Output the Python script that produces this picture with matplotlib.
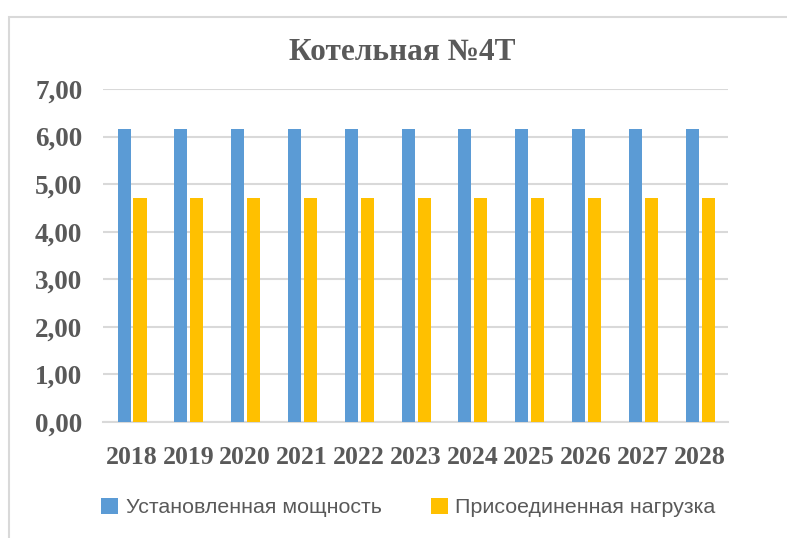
import matplotlib
matplotlib.use("Agg")
import matplotlib.pyplot as plt
import numpy as np
from matplotlib.patches import Rectangle
from matplotlib.ticker import FuncFormatter

years = ["2018", "2019", "2020", "2021", "2022", "2023", "2024", "2025", "2026", "2027", "2028"]
installed = [6.16, 6.16, 6.16, 6.16, 6.16, 6.16, 6.16, 6.16, 6.16, 6.16, 6.16]
connected = [4.71, 4.71, 4.71, 4.71, 4.71, 4.71, 4.71, 4.71, 4.71, 4.71, 4.71]

BLUE = "#5B9BD5"
YELLOW = "#FFC000"
TEXT = "#595959"
GRID = "#D9D9D9"

fig = plt.figure(figsize=(7.87, 5.38), dpi=100)
ax = fig.add_axes([0.131, 0.2156, 0.794, 0.619])

# chart frame (extends past right/bottom edge like the cropped original)
fig.patches.append(Rectangle((0.011, -0.2), 1.5, 0.2 + 0.968, transform=fig.transFigure,
                             fill=False, edgecolor=GRID, linewidth=1.5))

x = np.arange(len(years))
w = 0.23
ax.bar(x - 0.13, installed, width=w, color=BLUE, label="Установленная мощность", zorder=3)
ax.bar(x + 0.15, connected, width=w, color=YELLOW, label="Присоединенная нагрузка", zorder=3)

ax.set_xlim(-0.5, len(years) - 0.5)
ax.set_ylim(0, 7)
ax.set_yticks(np.arange(0, 8, 1))
ax.yaxis.set_major_formatter(FuncFormatter(lambda v, _: f"{v:.2f}".replace(".", ",")))
ax.set_xticks(x)
ax.set_xticklabels(years)

ax.grid(axis="y", color=GRID, linewidth=1.5, zorder=0)
for s in ["top", "right", "left"]:
    ax.spines[s].set_visible(False)
ax.spines["bottom"].set_color(GRID)
ax.spines["bottom"].set_linewidth(1.5)
ax.tick_params(length=0)
ax.tick_params(axis="y", pad=15)
ax.tick_params(axis="x", pad=17)
for lbl in ax.get_xticklabels():
    lbl.set_fontfamily("Liberation Serif")
    lbl.set_fontweight("bold")
    lbl.set_fontsize(18.5)
    lbl.set_color(TEXT)
for lbl in ax.get_yticklabels():
    lbl.set_fontfamily("Liberation Serif")
    lbl.set_fontweight("bold")
    lbl.set_fontsize(19.5)
    lbl.set_color(TEXT)

fig.text(0.511, 0.903, "Котельная №4Т", ha="center", va="center",
         fontfamily="Liberation Serif", fontweight="bold", fontsize=22.5, color=TEXT)

leg = fig.legend(loc="center", bbox_to_anchor=(0.519, 0.057), ncol=2, frameon=False,
                 prop={"family": "Liberation Sans", "size": 15.4},
                 handlelength=0.8, handleheight=0.8, handletextpad=0.35, columnspacing=2.3)
for t in leg.get_texts():
    t.set_color(TEXT)

fig.savefig("out.png", dpi=100)
